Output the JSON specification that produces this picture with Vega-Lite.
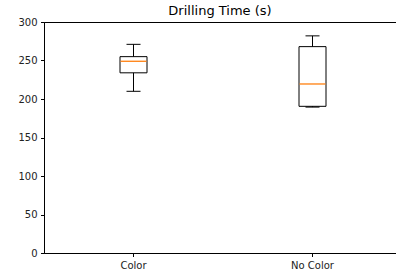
{
  "$schema": "https://vega.github.io/schema/vega-lite/v6.json",
  "autosize": "none",
  "width": 352,
  "height": 231,
  "padding": {"left": 44, "top": 22, "right": 0, "bottom": 23},
  "title": {"text": "Drilling Time (s)", "font": "DejaVu Sans", "fontSize": 13, "fontWeight": "normal", "color": "#000", "offset": 4, "dy": 5},
  "data": {"values": [
    {"group": "Color", "lower": 210, "q1": 234, "median": 249, "q3": 255, "upper": 271},
    {"group": "No Color", "lower": 189.5, "q1": 190.5, "median": 219.5, "q3": 268, "upper": 282}
  ]},
  "config": {
    "view": {"stroke": "#000", "strokeWidth": 1},
    "axis": {"labelFont": "DejaVu Sans", "labelFontSize": 10, "labelColor": "#222", "domainColor": "#000", "tickColor": "#000", "grid": false, "title": null, "tickSize": 3.5, "labelPadding": 3.5, "labelOverlap": false},
    "axisY": {"values": [0, 50, 100, 150, 200, 250, 300], "tickCount": 7}
  },
  "encoding": {
    "x": {"field": "group", "type": "nominal", "sort": null,
      "scale": {"paddingInner": 0.067, "paddingOuter": 0.0168, "align": 1},
      "axis": {"labelAngle": 0, "title": null}}
  },
  "layer": [
    {"mark": {"type": "rule", "color": "#000", "strokeWidth": 1},
     "encoding": {"y": {"field": "lower", "type": "quantitative", "scale": {"domain": [0, 300], "nice": false}, "axis": {"values": [0, 50, 100, 150, 200, 250, 300], "title": null}}, "y2": {"field": "upper"}}},
    {"mark": {"type": "bar", "size": 27, "fill": "#fff", "stroke": "#000", "strokeWidth": 1},
     "encoding": {"y": {"field": "q1", "type": "quantitative"}, "y2": {"field": "q3"}}},
    {"mark": {"type": "tick", "size": 14, "thickness": 1, "color": "#000", "opacity": 1},
     "encoding": {"y": {"field": "lower", "type": "quantitative"}}},
    {"mark": {"type": "tick", "size": 14, "thickness": 1, "color": "#000", "opacity": 1},
     "encoding": {"y": {"field": "upper", "type": "quantitative"}}},
    {"mark": {"type": "tick", "size": 26, "thickness": 1.3, "color": "#ff7f0e", "opacity": 1},
     "encoding": {"y": {"field": "median", "type": "quantitative"}}}
  ]
}
